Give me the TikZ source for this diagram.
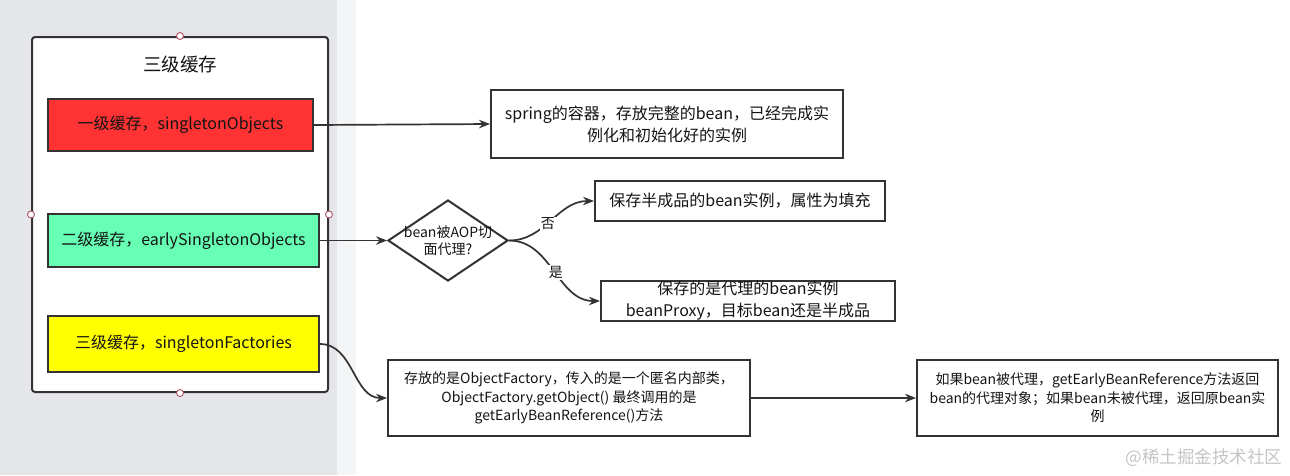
\documentclass[tikz,border=0pt]{standalone}
\usepackage{fontspec}
\newfontfamily\cjk{Noto Sans CJK SC}
\usetikzlibrary{shapes.geometric,arrows.meta}
\definecolor{bggrey}{HTML}{E4E6EA}
\definecolor{bgstrip}{HTML}{F4F5F6}
\definecolor{edge}{HTML}{333333}
\definecolor{txt}{HTML}{141414}
\definecolor{cred}{HTML}{FF3333}
\definecolor{cgreen}{HTML}{66FFB3}
\definecolor{cyellow}{HTML}{FFFF00}
\definecolor{handle}{HTML}{B05060}
\definecolor{wm}{HTML}{C4C4C4}
\tikzset{
  box/.style={draw=edge, line width=2pt, rectangle, inner sep=0pt, align=center, text=txt,
    font=\cjk\fontsize{16}{22}\selectfont},
  smallbox/.style={box, font=\cjk\fontsize{14}{18.5}\selectfont},
  conn/.style={draw=edge, line width=1.7pt, -{Stealth[length=11pt,width=8.5pt]}},
  handledot/.style={circle, draw=handle, fill=white, line width=0.9pt, minimum size=7pt, inner sep=0pt},
  lbl/.style={fill=white, inner sep=1pt, text=txt, font=\cjk\fontsize{14}{16}\selectfont},
}
\begin{document}
\begin{tikzpicture}[x=1pt,y=-1pt]
\useasboundingbox (0,0) rectangle (1290,475);
\fill[bggrey] (0,0) rectangle (337,475);
\fill[bgstrip] (337,0) rectangle (356,475);
% outer container
\node[draw=edge, line width=2pt, rounded corners=3pt, fill=white, minimum width=296pt, minimum height=355pt, inner sep=0pt] (outer) at (180,214.5) {};
\node[text=txt, font=\cjk\fontsize{18.5}{22}\selectfont] (title) at (180,64) {三级缓存};
\node[box, fill=cred, minimum width=265pt, minimum height=52pt] (red) at (180.5,125) {一级缓存，singletonObjects};
\node[box, fill=cgreen, minimum width=271pt, minimum height=53pt] (green) at (183.5,240.5) {二级缓存，earlySingletonObjects};
\node[box, fill=cyellow, minimum width=271pt, minimum height=56pt] (yellow) at (183.5,344) {三级缓存，singletonFactories};
\foreach \a in {north,south,west,east} \node[handledot] (h\a) at (outer.\a) {};
% right side
\node[box, minimum width=352pt, minimum height=68pt] (A) at (667,124) {spring的容器，存放完整的bean，已经完成实\\例化和初始化好的实例};
\node[diamond, draw=edge, line width=2pt, minimum width=120pt, minimum height=81pt, inner sep=0pt] (d) at (448,240.5) {};
\node[text=txt, align=center, font=\cjk\fontsize{14}{17}\selectfont] (dt) at (d) {bean被AOP切\\面代理?};
\node[box, minimum width=290pt, minimum height=40pt] (B) at (740,201) {保存半成品的bean实例，属性为填充};
\node[box, minimum width=294pt, minimum height=40pt] (C) at (748,301) {保存的是代理的bean实例\\beanProxy，目标bean还是半成品};
\node[smallbox, minimum width=362pt, minimum height=76pt] (D) at (569,398) {存放的是ObjectFactory，传入的是一个匿名内部类，\\ObjectFactory.getObject() 最终调用的是\\getEarlyBeanReference()方法};
\node[smallbox, minimum width=361pt, minimum height=76pt] (E) at (1097.5,398) {如果bean被代理，getEarlyBeanReference方法返回\\bean的代理对象；如果bean未被代理，返回原bean实\\例};
% connectors
\draw[conn] (red.east) -- (A.west);
\draw[conn] (green.east) -- (d.west);
\draw[conn] (d.east) to[out=0,in=180] node[lbl, pos=0.45] (no) {否} (B.west);
\draw[conn] (d.east) to[out=0,in=180] node[lbl, pos=0.52] (yes) {是} (C.west);
\draw[conn] (yellow.east) to[out=0,in=180] (D.west);
\draw[conn] (D.east) -- (E.west);
% watermark
\node[text=wm, font=\cjk\fontsize{17.5}{20}\selectfont] (wmk) at (1204,458) {@稀土掘金技术社区};
\end{tikzpicture}
\end{document}
